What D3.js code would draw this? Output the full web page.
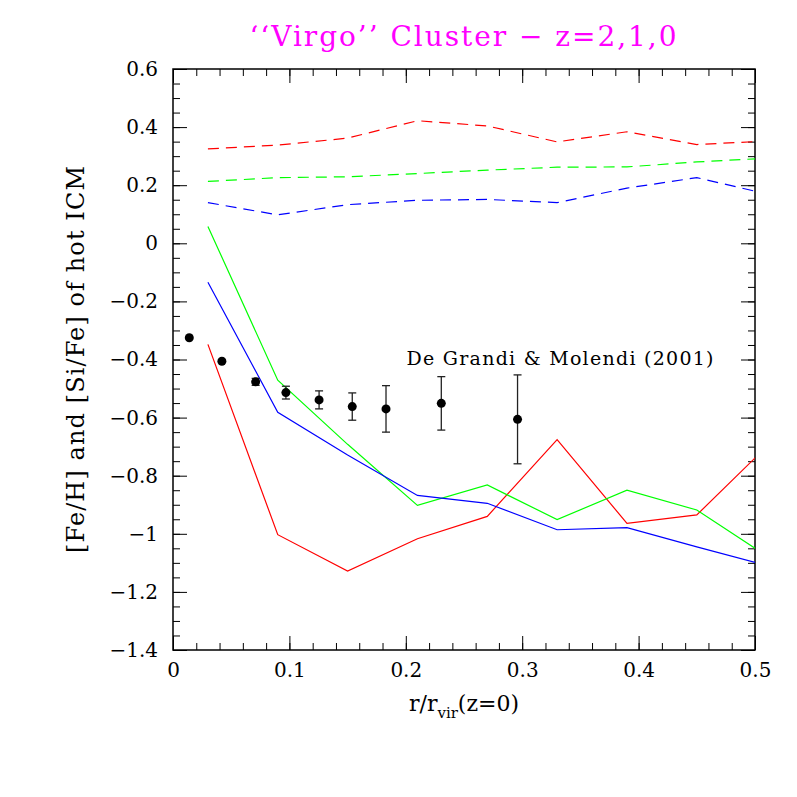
<!DOCTYPE html>
<html>
<head>
<meta charset="utf-8">
<script src="https://cdn.jsdelivr.net/npm/d3@7"></script>
<style>
  body { margin: 0; background: #fff; }
  text { font-family: "DejaVu Serif", "Liberation Serif", serif; }
</style>
</head>
<body>
<div id="viz"></div>
<script>
// chart data
var titleText = "\u2018\u2018Virgo\u2019\u2019 Cluster \u2212 z=2,1,0";
var xTicks = [0, 0.1, 0.2, 0.3, 0.4, 0.5];
var yTicks = [-1.4, -1.2, -1, -0.8, -0.6, -0.4, -0.2, 0, 0.2, 0.4, 0.6];

// simulation radii (last point lies past the frame and gets clipped)
var simR = [0.03, 0.09, 0.15, 0.21, 0.27, 0.33, 0.39, 0.45, 0.51];
var feRed   = [-0.348, -1.003, -1.128, -1.017, -0.940, -0.676, -0.964, -0.935, -0.700];
var feGreen = [0.058, -0.471, -0.692, -0.902, -0.832, -0.951, -0.850, -0.918, -1.076];
var feBlue  = [-0.134, -0.582, -0.729, -0.868, -0.895, -0.986, -0.979, -1.045, -1.109];
var siRed   = [0.325, 0.338, 0.362, 0.422, 0.404, 0.349, 0.384, 0.340, 0.352];
var siGreen = [0.213, 0.226, 0.229, 0.240, 0.252, 0.262, 0.263, 0.280, 0.293];
var siBlue  = [0.140, 0.098, 0.133, 0.148, 0.151, 0.140, 0.190, 0.226, 0.170];

// De Grandi & Molendi (2001)
var obsR   = [0.014, 0.042, 0.071, 0.097, 0.1255, 0.154, 0.183, 0.2305, 0.296];
var obsFe  = [-0.325, -0.406, -0.477, -0.514, -0.539, -0.562, -0.570, -0.551, -0.606];
var obsErr = [0, 0, 0.012, 0.022, 0.031, 0.047, 0.080, 0.092, 0.153];

var W = 797, H = 797;
var pL = 173, pR = 755, pT = 69, pB = 650;

var svg = d3.select('#viz').append('svg')
    .attr('width', W)
    .attr('height', H);

var x = d3.scaleLinear().domain([0, 0.5]).range([pL, pR]);
var y = d3.scaleLinear().domain([-1.4, 0.6]).range([pB, pT]);

svg.append('clipPath').attr('id', 'plotclip')
  .append('rect')
    .attr('x', pL).attr('y', pT)
    .attr('width', pR - pL).attr('height', pB - pT);

var fmt = function(d) {
  if (d === 0) return '0';
  return (d < 0 ? '\u2212' : '') + d3.format('~g')(Math.abs(d));
};

var xMinor = d3.range(0, 0.5001, 0.02);
var yMinor = d3.range(-1.4, 0.6001, 0.05);

function styleAxis(g) {
  g.select('.domain').remove();
  g.selectAll('.tick line').attr('stroke', '#000').attr('stroke-width', 1);
  g.selectAll('text')
    .attr('fill', '#000')
    .style('font-size', '20px')
    .style('font-family', '"DejaVu Serif", serif');
}

// minor ticks on all four sides
svg.append('g').attr('transform', 'translate(0,' + pB + ')')
  .call(d3.axisBottom(x).tickValues(xMinor).tickSize(-7).tickFormat(''))
  .call(styleAxis);
svg.append('g').attr('transform', 'translate(0,' + pT + ')')
  .call(d3.axisTop(x).tickValues(xMinor).tickSize(-7).tickFormat(''))
  .call(styleAxis);
svg.append('g').attr('transform', 'translate(' + pL + ',0)')
  .call(d3.axisLeft(y).tickValues(yMinor).tickSize(-7).tickFormat(''))
  .call(styleAxis);
svg.append('g').attr('transform', 'translate(' + pR + ',0)')
  .call(d3.axisRight(y).tickValues(yMinor).tickSize(-7).tickFormat(''))
  .call(styleAxis);

// major ticks
svg.append('g').attr('transform', 'translate(0,' + pB + ')')
  .call(d3.axisBottom(x).tickValues(xTicks).tickSize(-14).tickPadding(13).tickFormat(fmt))
  .call(styleAxis);
svg.append('g').attr('transform', 'translate(0,' + pT + ')')
  .call(d3.axisTop(x).tickValues(xTicks).tickSize(-14).tickFormat(''))
  .call(styleAxis);
svg.append('g').attr('transform', 'translate(' + pL + ',0)')
  .call(d3.axisLeft(y).tickValues(yTicks).tickSize(-14).tickPadding(15).tickFormat(fmt))
  .call(styleAxis);
svg.append('g').attr('transform', 'translate(' + pR + ',0)')
  .call(d3.axisRight(y).tickValues(yTicks).tickSize(-14).tickFormat(''))
  .call(styleAxis);

// frame
svg.append('rect')
  .attr('x', pL).attr('y', pT)
  .attr('width', pR - pL).attr('height', pB - pT)
  .attr('fill', 'none').attr('stroke', '#000').attr('stroke-width', 1.5);

var lineFunc = d3.line()
  .x(function(d) { return x(d[0]); })
  .y(function(d) { return y(d[1]); });

var series = [
  {v: siRed, c: '#ff0000', dash: '11,7'},
  {v: siGreen, c: '#00ff00', dash: '11,7'},
  {v: siBlue, c: '#0000ff', dash: '11,7'},
  {v: feRed, c: '#ff0000', dash: null},
  {v: feGreen, c: '#00ff00', dash: null},
  {v: feBlue, c: '#0000ff', dash: null}
];

var plot = svg.append('g').attr('clip-path', 'url(#plotclip)');

series.forEach(function(s) {
  plot.append('path')
    .attr('d', lineFunc(simR.map(function(r, i) { return [r, s.v[i]]; })))
    .attr('fill', 'none')
    .attr('stroke', s.c)
    .attr('stroke-width', 1.2)
    .attr('stroke-dasharray', s.dash);
});

// observed points with error bars
var obs = obsR.map(function(r, i) { return {r: r, fe: obsFe[i], e: obsErr[i]}; });
var eb = plot.selectAll('.eb').data(obs.filter(function(d) { return d.e > 0; }))
  .enter().append('g').attr('class', 'eb')
  .attr('stroke', '#222').attr('stroke-width', 1.3);
eb.append('line')
  .attr('x1', function(d) { return x(d.r); }).attr('x2', function(d) { return x(d.r); })
  .attr('y1', function(d) { return y(d.fe - d.e); }).attr('y2', function(d) { return y(d.fe + d.e); });
eb.append('line')
  .attr('x1', function(d) { return x(d.r) - 4; }).attr('x2', function(d) { return x(d.r) + 4; })
  .attr('y1', function(d) { return y(d.fe - d.e); }).attr('y2', function(d) { return y(d.fe - d.e); });
eb.append('line')
  .attr('x1', function(d) { return x(d.r) - 4; }).attr('x2', function(d) { return x(d.r) + 4; })
  .attr('y1', function(d) { return y(d.fe + d.e); }).attr('y2', function(d) { return y(d.fe + d.e); });

plot.selectAll('.pt').data(obs).enter().append('circle')
  .attr('class', 'pt')
  .attr('cx', function(d) { return x(d.r); })
  .attr('cy', function(d) { return y(d.fe); })
  .attr('r', 4.5)
  .attr('fill', '#000');

svg.append('text')
  .attr('x', 560).attr('y', 365)
  .attr('text-anchor', 'middle')
  .attr('textLength', 307).attr('lengthAdjust', 'spacing')
  .style('font-size', '19px')
  .text('De Grandi & Molendi (2001)');

// title
svg.append('text')
  .attr('x', 463).attr('y', 46)
  .attr('text-anchor', 'middle')
  .attr('fill', '#ff00ff')
  .attr('textLength', 427).attr('lengthAdjust', 'spacing')
  .style('font-size', '28px')
  .text(titleText);

// axis labels
var xl = svg.append('text')
  .attr('x', 464).attr('y', 711)
  .attr('text-anchor', 'middle')
  .style('font-size', '22px');
xl.append('tspan').text('r/r');
xl.append('tspan').attr('dy', 7).style('font-size', '15px').text('vir');
xl.append('tspan').attr('dy', -7).text('(z=0)');

svg.append('text')
  .attr('transform', 'translate(84,' + ((pT + pB) / 2) + ') rotate(-90)')
  .attr('text-anchor', 'middle')
  .attr('textLength', 387).attr('lengthAdjust', 'spacing')
  .style('font-size', '24px')
  .text('[Fe/H] and [Si/Fe] of hot ICM');
</script>
</body>
</html>
